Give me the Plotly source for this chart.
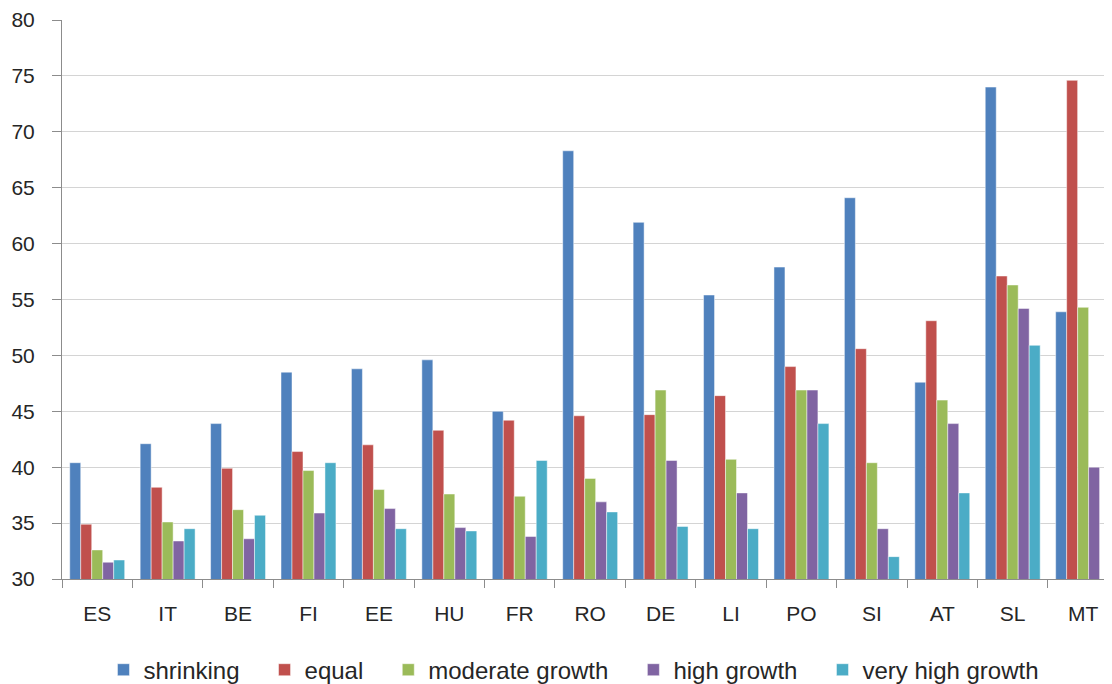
import plotly.graph_objects as go

countries = ['ES', 'IT', 'BE', 'FI', 'EE', 'HU', 'FR', 'RO', 'DE', 'LI', 'PO', 'SI', 'AT', 'SL', 'MT']

shrinking = [40.4, 42.1, 43.9, 48.5, 48.8, 49.6, 45.0, 68.3, 61.9, 55.4, 57.9, 64.1, 47.6, 74.0, 53.9]
equal = [34.9, 38.2, 39.9, 41.4, 42.0, 43.3, 44.2, 44.6, 44.7, 46.4, 49.0, 50.6, 53.1, 57.1, 74.6]
moderate_growth = [32.6, 35.1, 36.2, 39.7, 38.0, 37.6, 37.4, 39.0, 46.9, 40.7, 46.9, 40.4, 46.0, 56.3, 54.3]
high_growth = [31.5, 33.4, 33.6, 35.9, 36.3, 34.6, 33.8, 36.9, 40.6, 37.7, 46.9, 34.5, 43.9, 54.2, 40.0]
very_high_growth = [31.7, 34.5, 35.7, 40.4, 34.5, 34.3, 40.6, 36.0, 34.7, 34.5, 43.9, 32.0, 37.7, 50.9, None]

series = [
    ('shrinking', shrinking, '#4F81BD'),
    ('equal', equal, '#C0504D'),
    ('moderate growth', moderate_growth, '#9BBB59'),
    ('high growth', high_growth, '#8064A2'),
    ('very high growth', very_high_growth, '#4BACC6'),
]

font_family = 'Liberation Sans, Arial'
pad = '\u00a0' * 3  # widens the gap between legend entries

fig = go.Figure()
for i, (name, values, color) in enumerate(series):
    fig.add_trace(go.Bar(x=countries,
                         y=values,
                         name=name + (pad if i < len(series) - 1 else ''),
                         marker=dict(color=color, line=dict(color='rgba(255,255,255,0.6)', width=0.8))
                         ))

# page body has an 8px margin, so the figure is sized to the visible window;
# the last group runs slightly past the right edge as in the original
fig.update_layout(barmode='group',
                  bargap=0.22,
                  bargroupgap=0,
                  width=1104,
                  height=676,
                  margin=dict(l=53.5, r=0, t=12, b=105.3, autoexpand=False),
                  paper_bgcolor='white',
                  plot_bgcolor='white',
                  font=dict(family=font_family, size=21, color='#262626'),
                  legend=dict(orientation='h',
                              x=0.0395, xanchor='left',
                              y=-0.163, yanchor='middle',
                              font=dict(size=24),
                              itemwidth=30,
                              traceorder='normal'))
fig.update_xaxes(range=[-0.5, 14.41],
                 showline=True,
                 linecolor='#8c8c8c',
                 linewidth=1,
                 ticks='outside',
                 tickson='boundaries',
                 ticklen=8,
                 tickcolor='#8c8c8c',
                 ticklabelstandoff=16,
                 showgrid=False)
fig.update_yaxes(range=[30, 80],
                 dtick=5,
                 showline=True,
                 linecolor='#8c8c8c',
                 linewidth=1,
                 ticks='outside',
                 ticklen=9,
                 tickcolor='#8c8c8c',
                 ticklabelstandoff=13,
                 gridcolor='#d4d4d4',
                 gridwidth=1,
                 zeroline=False)

fig.write_html("out.html")
